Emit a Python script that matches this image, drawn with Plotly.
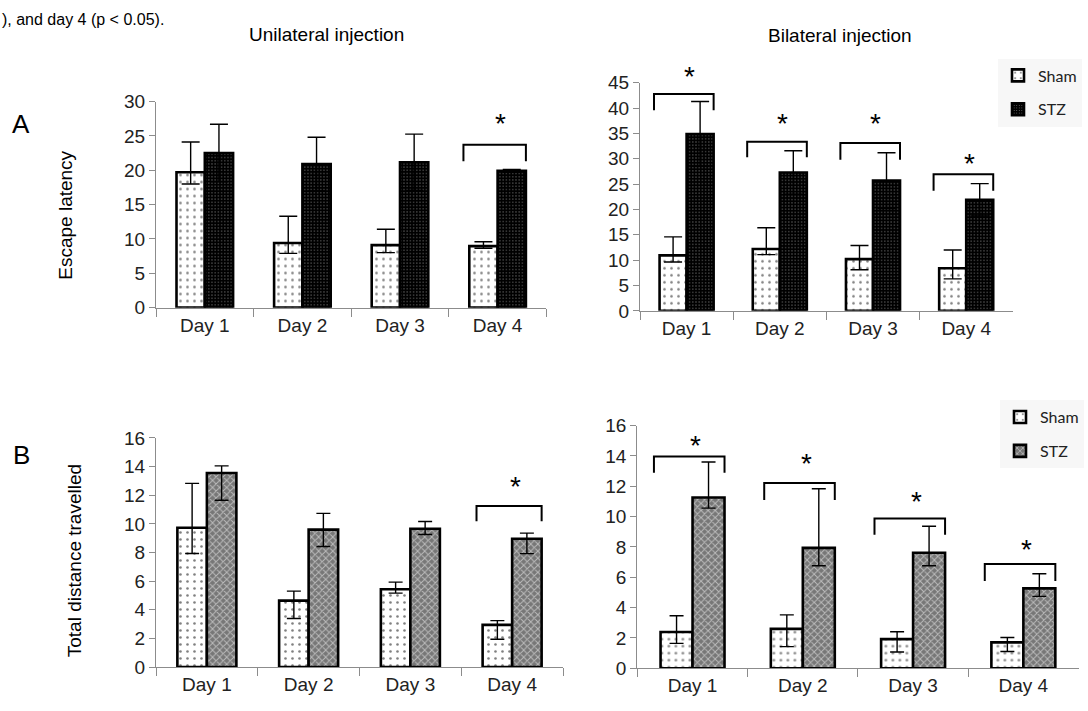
import plotly.graph_objects as go

days = ["Day 1", "Day 2", "Day 3", "Day 4"]

# ---- Panel A, unilateral injection (escape latency)
a_uni_sham = [19.7, 9.4, 9.1, 8.95]
a_uni_sham_plus = [4.4, 3.9, 2.3, 0.65]
a_uni_sham_minus = [1.7, 1.5, 1.1, 0.3]
a_uni_stz = [22.5, 20.9, 21.15, 19.9]
a_uni_stz_plus = [4.2, 3.9, 4.1, 0.2]
a_uni_stz_minus = [4.2, 3.9, 4.1, 0.2]
a_uni_sig_days = [3]
a_uni_sig_top = [23.7]
a_uni_sig_leg = [21.3]
a_uni_sig_star = [27.8]

# ---- Panel A, bilateral injection (escape latency)
a_bi_sham = [10.95, 12.2, 10.2, 8.4]
a_bi_sham_plus = [3.65, 4.2, 2.7, 3.6]
a_bi_sham_minus = [1.3, 1.1, 2.1, 2.1]
a_bi_stz = [34.9, 27.3, 25.7, 21.9]
a_bi_stz_plus = [6.4, 4.3, 5.5, 3.2]
a_bi_stz_minus = [6.4, 4.3, 5.5, 3.2]
a_bi_sig_days = [0, 1, 2, 3]
a_bi_sig_top = [42.8, 33.35, 33.1, 26.95]
a_bi_sig_leg = [39.6, 30.3, 29.8, 23.7]
a_bi_sig_star = [47.6, 38.4, 38.4, 30.5]

# ---- Panel B, unilateral injection (total distance travelled)
b_uni_sham = [9.73, 4.64, 5.43, 2.94]
b_uni_sham_plus = [3.1, 0.66, 0.5, 0.3]
b_uni_sham_minus = [1.8, 1.25, 0.27, 1.0]
b_uni_stz = [13.55, 9.6, 9.66, 8.96]
b_uni_stz_plus = [0.5, 1.13, 0.5, 0.39]
b_uni_stz_minus = [1.9, 1.18, 0.4, 1.04]
b_uni_sig_days = [3]
b_uni_sig_top = [11.25]
b_uni_sig_leg = [10.18]
b_uni_sig_star = [13.08]

# ---- Panel B, bilateral injection (total distance travelled)
b_bi_sham = [2.39, 2.6, 1.92, 1.71]
b_bi_sham_plus = [1.07, 0.92, 0.49, 0.32]
b_bi_sham_minus = [0.75, 1.17, 0.85, 0.6]
b_bi_stz = [11.26, 7.94, 7.62, 5.27]
b_bi_stz_plus = [2.34, 3.9, 1.75, 0.96]
b_bi_stz_minus = [0.7, 1.18, 0.86, 0.53]
b_bi_sig_days = [0, 1, 2, 3]
b_bi_sig_top = [13.97, 12.22, 9.88, 6.87]
b_bi_sig_leg = [12.9, 11.1, 8.81, 5.76]
b_bi_sig_star = [15.15, 13.97, 11.46, 8.32]

caption_tail = "), and day 4 (p < 0.05)."

W, H = 1088, 711
AXIS_GREY = "#8c8c8c"
TICK_FONT = dict(family="Liberation Sans, Arial, sans-serif", size=19, color="#222222")

SHAM_PATTERN = dict(shape=".", fgcolor="black", bgcolor="white", size=7, solidity=0.11)
STZ_A_PATTERN = dict(shape=".", fgcolor="white", bgcolor="black", size=3.2, solidity=0.12)
STZ_B_PATTERN = dict(shape="x", fgcolor="white", bgcolor="#777777", size=5, solidity=0.35)


def px_x(p):
    return p / W


def px_y(p):
    return 1 - p / H


# axis boxes in pixels: (x range), (y top, y bottom), y max, tick step
boxes = {
    "": ((156, 546.4), (94.3, 306.7), 30, 5),
    "2": ((640, 1012.8), (75, 310), 45, 5),
    "3": ((156, 563), (441, 677), 16, 2),
    "4": ((637.4, 1078.5), (428.3, 678.3), 16, 2),
}

fig = go.Figure()

panels = [
    ("", a_uni_sham, a_uni_sham_plus, a_uni_sham_minus, a_uni_stz, a_uni_stz_plus, a_uni_stz_minus,
     STZ_A_PATTERN, "black", None, a_uni_sig_days, a_uni_sig_top, a_uni_sig_leg, a_uni_sig_star, 9),
    ("2", a_bi_sham, a_bi_sham_plus, a_bi_sham_minus, a_bi_stz, a_bi_stz_plus, a_bi_stz_minus,
     STZ_A_PATTERN, "black", "legend", a_bi_sig_days, a_bi_sig_top, a_bi_sig_leg, a_bi_sig_star, 9),
    ("3", b_uni_sham, b_uni_sham_plus, b_uni_sham_minus, b_uni_stz, b_uni_stz_plus, b_uni_stz_minus,
     STZ_B_PATTERN, "#777777", None, b_uni_sig_days, b_uni_sig_top, b_uni_sig_leg, b_uni_sig_star, 7),
    ("4", b_bi_sham, b_bi_sham_plus, b_bi_sham_minus, b_bi_stz, b_bi_stz_plus, b_bi_stz_minus,
     STZ_B_PATTERN, "#777777", "legend2", b_bi_sig_days, b_bi_sig_top, b_bi_sig_leg, b_bi_sig_star, 7),
]

shapes = []
annotations = []

for (sfx, sham, sp, sm, stz, tp, tm, pat, stzcol, leg, sdays, stop, sleg, sstar, capw) in panels:
    xa, ya = "x" + sfx, "y" + sfx
    show = leg is not None
    fig.add_trace(go.Bar(
        x=days, y=sham, name="Sham",
        marker=dict(color="white", pattern=SHAM_PATTERN, line=dict(color="black", width=2.6)),
        error_y=dict(type="data", symmetric=False, array=sp, arrayminus=sm,
                     color="black", thickness=1.4, width=capw),
        xaxis=xa, yaxis=ya, showlegend=show, legend=leg if show else "legend",
        legendgroup=(leg or "") + "sham",
    ))
    fig.add_trace(go.Bar(
        x=days, y=stz, name="STZ",
        marker=dict(color=stzcol, pattern=pat, line=dict(color="black", width=2.6)),
        error_y=dict(type="data", symmetric=False, array=tp, arrayminus=tm,
                     color="black", thickness=1.4, width=capw),
        xaxis=xa, yaxis=ya, showlegend=show, legend=leg if show else "legend",
        legendgroup=(leg or "") + "stz",
    ))
    (bx0, bx1), (by0, by1), ymax, _ = boxes[sfx]
    for d, top, legy, st in zip(sdays, stop, sleg, sstar):
        x0, x1 = d - 0.35, d + 0.29
        shapes.append(dict(type="path", xref=xa, yref=ya,
                           path=f"M {x0},{legy} L {x0},{top} L {x1},{top} L {x1},{legy}",
                           line=dict(color="black", width=2)))
        # star placed in paper coordinates so it can sit above the axis top
        star_px_y = by1 - (st / ymax) * (by1 - by0)
        annotations.append(dict(x=d + 0.03, y=px_y(star_px_y), xref=xa, yref="paper",
                                text="*", showarrow=False,
                                font=dict(family="Liberation Sans, Arial", size=28, color="black"),
                                yanchor="middle", yshift=-7))

layout_axes = {}
for sfx, ((x0, x1), (y0, y1), ymax, dt) in boxes.items():
    layout_axes["xaxis" + sfx] = dict(
        domain=[px_x(x0), px_x(x1)], anchor="y" + sfx, type="category",
        range=[-0.5, 3.5], showline=True, linecolor=AXIS_GREY, linewidth=1.3,
        ticks="outside", tickson="boundaries", ticklen=8, tickcolor=AXIS_GREY, tickwidth=1.3,
        showgrid=False, tickfont=TICK_FONT, fixedrange=True,
    )
    layout_axes["yaxis" + sfx] = dict(
        domain=[px_y(y1), px_y(y0)], anchor="x" + sfx, range=[0, ymax], dtick=dt, tick0=0,
        showline=True, linecolor=AXIS_GREY, linewidth=1.3, ticks="outside", ticklen=6,
        tickcolor=AXIS_GREY, tickwidth=1.3, showgrid=False, zeroline=False,
        tickfont=TICK_FONT, fixedrange=True,
    )

text_font = dict(family="Liberation Sans, Arial, sans-serif", size=19, color="black")
annotations += [
    dict(x=0, y=1, xref="paper", yref="paper", text=caption_tail,
         showarrow=False, font=dict(family="Liberation Sans, Arial", size=16, color="black"),
         xanchor="left", yanchor="top", yshift=1),
    dict(x=px_x(326), y=px_y(25), xref="paper", yref="paper", text="Unilateral injection",
         showarrow=False, font=text_font, xanchor="center", yanchor="middle"),
    dict(x=px_x(840), y=px_y(26), xref="paper", yref="paper", text="Bilateral injection",
         showarrow=False, font=text_font, xanchor="center", yanchor="middle"),
    dict(x=px_x(66), y=px_y(212), xref="paper", yref="paper", text="Escape latency",
         showarrow=False, font=text_font, textangle=-90, xanchor="center", yanchor="middle"),
    dict(x=px_x(74), y=px_y(568), xref="paper", yref="paper", text="Total distance travelled",
         showarrow=False, font=text_font, textangle=-90, xanchor="center", yanchor="middle"),
    dict(x=px_x(21), y=px_y(117), xref="paper", yref="paper", text="A",
         showarrow=False, font=dict(family="Liberation Sans, Arial", size=26, color="black"),
         xanchor="center", yanchor="middle"),
    dict(x=px_x(21), y=px_y(459), xref="paper", yref="paper", text="B",
         showarrow=False, font=dict(family="Liberation Sans, Arial", size=26, color="black"),
         xanchor="center", yanchor="middle"),
]

legend_font = dict(family="Lato, Open Sans, sans-serif", size=16, color="#222222")
fig.update_layout(
    width=W, height=H, margin=dict(l=0, r=0, t=0, b=0),
    paper_bgcolor="white", plot_bgcolor="white",
    barmode="group", bargap=0.42, bargroupgap=0,
    shapes=shapes, annotations=annotations,
    legend=dict(x=px_x(998), y=px_y(50), xanchor="left", yanchor="top",
                bgcolor="rgba(238,238,238,0.45)", font=legend_font,
                tracegroupgap=10, itemwidth=30, traceorder="grouped"),
    legend2=dict(x=px_x(1000), y=px_y(402), xanchor="left", yanchor="top",
                 bgcolor="rgba(238,238,238,0.45)", font=legend_font,
                 tracegroupgap=10, itemwidth=30, traceorder="grouped"),
    **layout_axes,
)

fig.write_html("out.html", config={"displayModeBar": False},
               post_script="document.body.style.margin='0';document.body.style.overflow='hidden';")
